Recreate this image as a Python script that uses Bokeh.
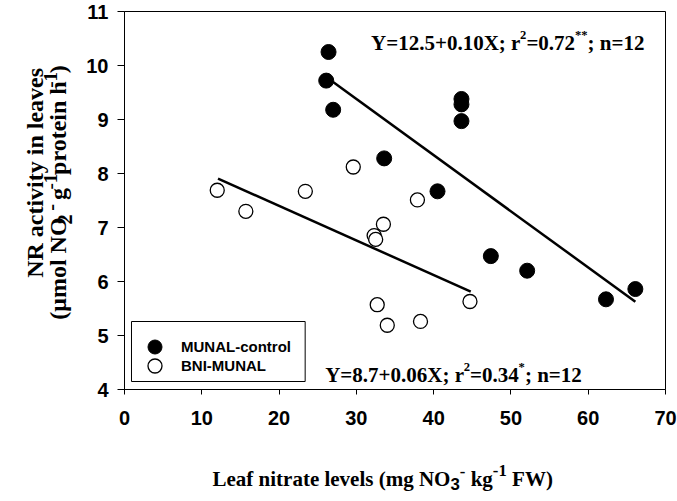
import math
from bokeh.plotting import figure
from bokeh.models import Range1d, Label, Legend, LegendItem, FixedTicker, BoxAnnotation
from bokeh.layouts import column, row
from bokeh.embed import file_html
from bokeh.resources import INLINE

# ---------------- data ----------------
ctrl_x = [26.4, 26.1, 27.0, 33.6, 43.6, 43.6, 43.6, 40.5, 47.4, 52.1, 62.3, 66.1]
ctrl_y = [10.25, 9.72, 9.18, 8.28, 9.38, 9.28, 8.97, 7.67, 6.47, 6.20, 5.67, 5.86]
bni_x = [12.0, 15.7, 23.4, 29.6, 37.9, 33.5, 32.3, 32.5, 32.7, 34.0, 38.3, 44.7]
bni_y = [7.69, 7.30, 7.67, 8.12, 7.51, 7.06, 6.85, 6.78, 5.57, 5.19, 5.26, 5.63]

ctrl_fit_x = [26.9, 66.1]
ctrl_fit = (12.5, -0.104)   # intercept, slope
bni_fit_x = [12.1, 44.8]
bni_fit = (8.68, -0.064)

x_ticks = [0, 10, 20, 30, 40, 50, 60, 70]
y_ticks = [4, 5, 6, 7, 8, 9, 10, 11]

ctrl_fit_y = [ctrl_fit[0] + ctrl_fit[1] * v for v in ctrl_fit_x]
bni_fit_y = [bni_fit[0] + bni_fit[1] * v for v in bni_fit_x]

# ---------------- layout (page pixels) ----------------
PAGE_W, PAGE_H = 677, 501
FL, FR, FT, FB = 123, 665, 11, 389   # plot frame
YT_W = 83                             # width of y-title strip
MAIN_H = 431                          # height of main figure
XT_H = PAGE_H - MAIN_H                # height of x-title strip
XMIN, XMAX, YMIN, YMAX = 0, 70, 4, 11

p = figure(width=PAGE_W - YT_W, height=MAIN_H, output_backend="svg", toolbar_location=None,
           x_range=Range1d(XMIN, XMAX), y_range=Range1d(YMIN, YMAX),
           min_border_left=FL - YT_W, min_border_right=PAGE_W - FR,
           min_border_top=FT, min_border_bottom=MAIN_H - FB)
p.background_fill_color = "white"
p.border_fill_color = "white"
p.outline_line_color = "black"
p.outline_line_width = 1
p.xgrid.grid_line_color = None
p.ygrid.grid_line_color = None


def dx(px):
    return XMIN + (px - FL) * (XMAX - XMIN) / (FR - FL)


def dy(py):
    return YMIN + (FB - py) * (YMAX - YMIN) / (FB - FT)


for ax in (p.xaxis[0], p.yaxis[0]):
    ax.axis_line_color = "black"
    ax.axis_line_width = 1
    ax.major_tick_line_color = "black"
    ax.major_tick_in = 0
    ax.minor_tick_line_color = None
    ax.major_label_text_font = "Liberation Sans"
    ax.major_label_text_font_style = "bold"
    ax.major_label_text_font_size = "20px"
    ax.major_label_text_color = "black"

p.xaxis.ticker = FixedTicker(ticks=x_ticks)
p.yaxis.ticker = FixedTicker(ticks=y_ticks)
p.xaxis.major_tick_out = 5
p.yaxis.major_tick_out = 7
p.xaxis.major_label_standoff = 16
p.yaxis.major_label_standoff = 9

# legend frame box (guide, not data)
p.add_layout(BoxAnnotation(left=dx(130), right=dx(304), top=dy(321), bottom=dy(381),
                           fill_color="white", fill_alpha=1, line_color="black",
                           line_width=1, line_alpha=1))

# regression lines
p.line(ctrl_fit_x, ctrl_fit_y, line_color="black", line_width=2.5)
p.line(bni_fit_x, bni_fit_y, line_color="black", line_width=2.5)

r1 = p.scatter(ctrl_x, ctrl_y, marker="circle", size=15, fill_color="black", line_color="black")
r2 = p.scatter(bni_x, bni_y, marker="circle", size=14, fill_color="white", line_color="black",
               line_width=1.3)

leg_kw = dict(glyph_width=47, glyph_height=35, spacing=0, padding=4, label_standoff=3,
              label_width=116, label_text_font="Liberation Sans", label_text_font_style="bold",
              label_text_font_size="15px", label_text_color="black",
              border_line_color=None, margin=0, background_fill_alpha=0)
p.add_layout(Legend(items=[LegendItem(label="MUNAL-control", renderers=[r1])],
                    location=(130 - FL, FB - 364), **leg_kw))
p.add_layout(Legend(items=[LegendItem(label="BNI-MUNAL", renderers=[r2])],
                    location=(130 - FL, FB - 383), **leg_kw))

# ---------------- rich text helpers ----------------
TB = {' ': 250, '(': 333, ')': 333, '-': 333, '.': 250, ';': 333, '=': 570, '+': 570, '*': 500,
      'F': 611, 'L': 667, 'N': 722, 'O': 778, 'R': 722, 'W': 1000, 'X': 722, 'Y': 722,
      'a': 500, 'c': 444, 'e': 444, 'f': 333, 'g': 500, 'h': 556, 'i': 278, 'k': 556, 'l': 278,
      'm': 833, 'n': 556, 'o': 500, 'p': 556, 'r': 444, 's': 389, 't': 333, 'v': 500, 'y': 500,
      'μ': 556}
for d in "0123456789":
    TB[d] = 500
AB = {d: 556 for d in "0123456789"}

SERIF = "Liberation Serif"
SANS = "Liberation Sans"


def text_w(s, font, size):
    table = AB if font == SANS else TB
    return sum(table.get(c, 500) for c in s) * size / 1000.0


def total_w(pieces, base):
    return sum(text_w(s, f, base * sc) for (s, f, sc, sh) in pieces)


def place(fig, conv, pieces, x0, y0, base, rotated=False):
    """x0, y0: start of the baseline in page pixels; conv maps page px -> fig data coords."""
    pos = 0.0
    for (s, font, scale, shift) in pieces:
        size = base * scale
        stripped = s.lstrip(" ")
        pos += text_w(s[:len(s) - len(stripped)], font, size)
        w = text_w(stripped, font, size)
        if not rotated:
            cx, cy = conv(x0 + pos, y0 - shift * base)
            lab = Label(x=cx, y=cy, text=stripped, text_align="left",
                        text_baseline="alphabetic")
        else:
            # centre of the piece: baseline moved "up" (page-left) by ~0.3 em
            bx = x0 - shift * base - 0.30 * size
            by = y0 - pos - w / 2
            cx, cy = conv(bx, by)
            lab = Label(x=cx, y=cy, text=stripped, angle=math.pi / 2, text_align="center",
                        text_baseline="middle")
        lab.text_font = font
        lab.text_font_style = "bold"
        lab.text_font_size = f"{size:.1f}px"
        lab.text_color = "black"
        fig.add_layout(lab)
        pos += w


def blank(w, h):
    f = figure(width=w, height=h, output_backend="svg", toolbar_location=None,
               x_range=Range1d(0, w), y_range=Range1d(0, h),
               x_axis_location=None, y_axis_location=None,
               min_border=0, min_border_left=0, min_border_right=0,
               min_border_top=0, min_border_bottom=0)
    f.outline_line_color = None
    f.background_fill_color = "white"
    f.border_fill_color = "white"
    f.xgrid.visible = False
    f.ygrid.visible = False
    return f


main_conv = lambda x, y: (dx(x), dy(y))

# equations inside the plot
eq1 = [("Y=12.5+0.10X; r", SERIF, 1, 0), ("2", SERIF, 0.6, 0.38), ("=0.72", SERIF, 1, 0),
       ("**", SERIF, 0.6, 0.38), ("; n=12", SERIF, 1, 0)]
eq2 = [("Y=8.7+0.06X; r", SERIF, 1, 0), ("2", SERIF, 0.6, 0.38), ("=0.34", SERIF, 1, 0),
       ("*", SERIF, 0.6, 0.38), ("; n=12", SERIF, 1, 0)]
place(p, main_conv, eq1, 370, 42, 21)
place(p, main_conv, eq2, 324, 374, 21)

# y title strip (page x 0..YT_W, page y 0..MAIN_H)
yfig = blank(YT_W, MAIN_H)
y_conv = lambda x, y: (x, MAIN_H - y)
F1 = 24
yt1 = [("NR activity in leaves", SERIF, 1, 0)]
place(yfig, y_conv, yt1, 42, 184 + total_w(yt1, F1) / 2, F1, rotated=True)
yt2 = [("(μmol NO", SERIF, 1, 0), ("2", SERIF, 0.85, -0.22), (" -", SERIF, 0.85, 0.35),
       (" g", SERIF, 1, 0), ("-1", SERIF, 0.8, 0.4), (" protein h", SERIF, 1, 0),
       ("-1", SERIF, 0.8, 0.4), (")", SERIF, 1, 0)]
place(yfig, y_conv, yt2, 65, 203 + total_w(yt2, F1) / 2, F1, rotated=True)

# x title strip (page x 0..PAGE_W, page y MAIN_H..PAGE_H)
xfig = blank(PAGE_W, XT_H)
x_conv = lambda x, y: (x, PAGE_H - y)
xt = [("Leaf nitrate levels (mg NO", SERIF, 1, 0), ("3", SANS, 0.8, -0.25),
      ("-", SERIF, 0.8, 0.32), (" kg", SERIF, 1, 0), ("-1", SERIF, 0.8, 0.38),
      (" FW)", SERIF, 1, 0)]
place(xfig, x_conv, xt, 212, 478, 21)

layout = column(row(yfig, p, spacing=0), xfig, spacing=0)

open("out.html", "w").write(file_html(layout, INLINE))
